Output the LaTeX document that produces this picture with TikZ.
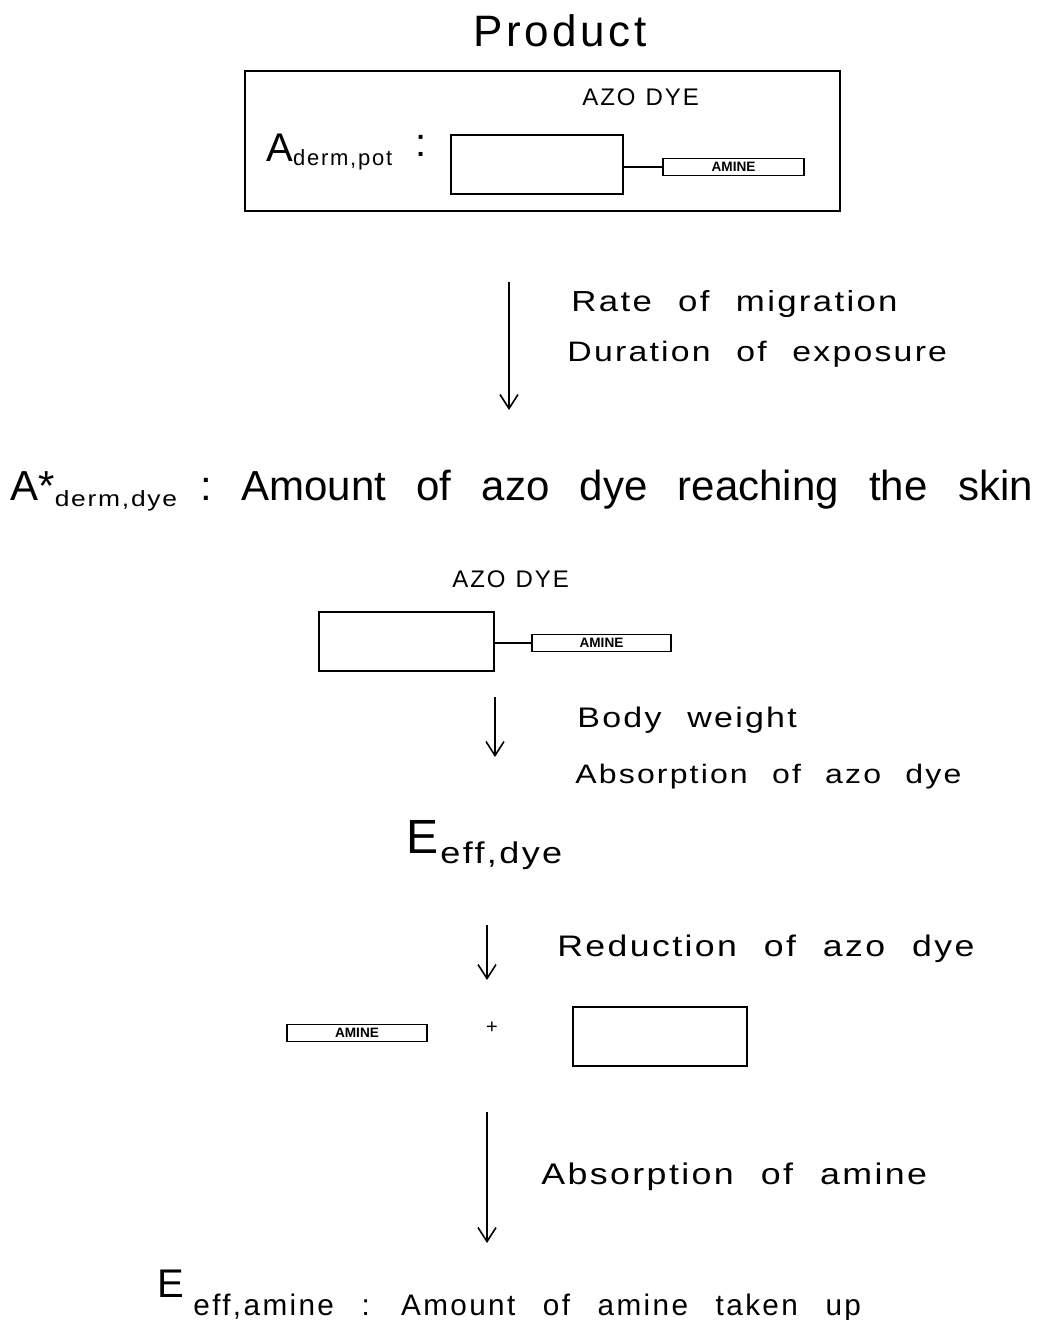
\documentclass[tikz,border=0pt]{standalone}
\usepackage{fontspec}
\usepackage{tikz}
\usetikzlibrary{arrows.meta, positioning, calc}
\newfontfamily\cad{Liberation Sans}[LetterSpace=8, WordSpace=2.6]
\newfontfamily\cadw{Liberation Sans}[FakeStretch=1.2, LetterSpace=8, WordSpace=2.2]
\newfontfamily\cadn{Liberation Sans}[WordSpace=2.6]
\newcommand{\fs}[1]{\cad\fontsize{#1}{#1}\selectfont}
\newcommand{\fw}[1]{\cadw\fontsize{#1}{#1}\selectfont}
\newcommand{\fn}[1]{\cadn\fontsize{#1}{#1}\selectfont}

\begin{document}
\begin{tikzpicture}[
    x=0.5pt, y=-0.5pt,
    lbl/.style={inner sep=0, anchor=base west, font=\fs{#1}},
    lblw/.style={inner sep=0, anchor=base west, font=\fw{#1}},
    lbln/.style={inner sep=0, anchor=base west, font=\fn{#1}},
    box/.style 2 args={draw, line width=0.7pt, inner sep=0,
                minimum width=#1*0.5pt, minimum height=#2*0.5pt},
    amine/.style={box={#1}{17}, font=\cadn\fontsize{6.8}{6.8}\selectfont\bfseries},
    flow/.style={-{Straight Barb[length=7pt, width=9pt]}, line width=0.8pt},
    bond/.style={line width=0.8pt}
]
\useasboundingbox (0,0) rectangle (1063,1320);

% Product
\node[lbl=22, anchor=base] (prod) at (560,47) {Product};
\node[box={595}{140}] (prodbox) at (542.5,141) {};
\node[lbl=12] (azoa) at (582,106) {AZO\kern5pt DYE};
\node[lbl=20] (adp) at (266,162) {A{\fs{11}\raisebox{-2pt}{derm,pot}}};
\node[lbl=20] (cola) at (415,157) {:};
\node[box={172}{59}] (dyea) at (537,164.5) {};
\node[amine={141}] (amia) at (733.5,167) {AMINE};
\draw[bond] (amia.west -| dyea.east) -- (amia.west);

% Migration
\coordinate (a1s) at (509,282);
\coordinate (a1e) at (509,410);
\draw[flow] (a1s) -- (a1e);
\node[lblw=14.5] (rate) at (571,312) {Rate of migration};
\node[lblw=14.07] (dur) at (567,362) {Duration of exposure};

% Skin
\node[lbln=21] (skina) at (10,500) {A*{\fw{11}\raisebox{-3pt}{derm,dye}}};
\node[lbln=21] (skinc) at (200,500) {:};
\node[lbln=21] (skinb) at (241,500) {Amount of azo dye reaching the skin};
\node[lbl=12] (azob) at (452,587) {AZO\kern5pt DYE};
\node[box={175}{59}] (dyeb) at (406.5,641.5) {};
\node[amine={139}] (amib) at (601.5,643) {AMINE};
\draw[bond] (amib.west -| dyeb.east) -- (amib.west);

\coordinate (a2s) at (495,697);
\coordinate (a2e) at (495,757);
\draw[flow] (a2s) -- (a2e);
\node[lblw=14.15] (bw) at (577,727) {Body weight};
\node[lblw=13.35] (absd) at (575,783) {Absorption of azo dye};

% Effective dose
\node[lbl=24] (edye) at (406,853) {E};
\node[lblw=15] (edyes) at (440,863) {eff,dye};
\coordinate (a3s) at (487,925);
\coordinate (a3e) at (487,980);
\draw[flow] (a3s) -- (a3e);
\node[lblw=14.85] (red) at (557,956) {Reduction of azo dye};

\node[amine={140}] (amic) at (357,1033) {AMINE};
\node[lbl=10, anchor=center] (plus) at (492,1028) {+};
\node[box={174}{59}] (dyec) at (660,1036.5) {};

% Amine uptake
\coordinate (a4s) at (487,1112);
\coordinate (a4e) at (487,1243);
\draw[flow] (a4s) -- (a4e);
\node[lblw=14.9] (absa) at (541,1184) {Absorption of amine};
\node[lbl=20] (eam) at (157,1297) {E};
\node[lbl=14.85] (eams) at (193,1315) {eff,amine : Amount of amine taken up};
\end{tikzpicture}
\end{document}
